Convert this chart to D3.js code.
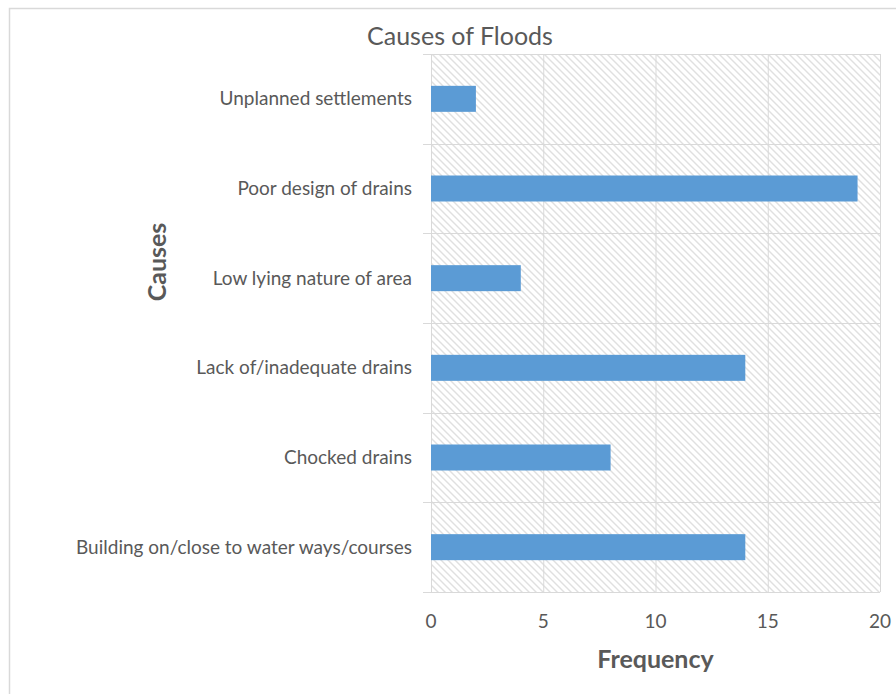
<!DOCTYPE html>
<html>
<head>
<meta charset="utf-8">
<script src="https://cdn.jsdelivr.net/npm/d3@7"></script>
<style>
  html, body { margin: 0; padding: 0; background: #fff; }
  svg { display: block; }
  text { font-family: Lato, "Open Sans", sans-serif; fill: #595959; }
</style>
</head>
<body>
<script>
// Survey results: reported causes of flooding and how often each was cited
const causes = [
  "Unplanned settlements",
  "Poor design of drains",
  "Low lying nature of area",
  "Lack of/inadequate drains",
  "Chocked drains",
  "Building on/close to water ways/courses"
];
const frequency = [2, 19, 4, 14, 8, 14];
const xTicks = [0, 5, 10, 15, 20];

const W = 896, H = 694;
const plot = { left: 431, right: 880, top: 54, bottom: 592 };

const svg = d3.select("body").append("svg")
  .attr("width", W).attr("height", H);

// Outer chart frame
svg.append("rect")
  .attr("x", 9.5).attr("y", 8.5)
  .attr("width", W).attr("height", H)
  .attr("fill", "#fff").attr("stroke", "#d9d9d9").attr("stroke-width", 1.5);

// Diagonal hatch fill for the plot area
const defs = svg.append("defs");
const pat = defs.append("pattern")
  .attr("id", "hatch")
  .attr("patternUnits", "userSpaceOnUse")
  .attr("width", 7).attr("height", 7);
pat.append("rect").attr("width", 7).attr("height", 7).attr("fill", "#fff");
pat.append("path")
  .attr("d", "M-1,-1 L8,8 M-1,6 L1,8 M6,-1 L8,1")
  .attr("stroke", "#e0e0e0").attr("stroke-width", 1.4);

const x = d3.scaleLinear().domain([0, 20]).range([plot.left, plot.right]);
const y = d3.scaleBand().domain(causes).range([plot.top, plot.bottom]).paddingInner(0.71).paddingOuter(0.355);
const yEdges = d3.scaleLinear().domain([0, causes.length]).range([plot.top, plot.bottom]);

svg.append("rect")
  .attr("x", plot.left).attr("y", plot.top)
  .attr("width", plot.right - plot.left).attr("height", plot.bottom - plot.top)
  .attr("fill", "url(#hatch)");

// Vertical gridlines at the value ticks
svg.append("g").selectAll("line").data(xTicks).join("line")
  .attr("x1", d => x(d) + 0.5).attr("x2", d => x(d) + 0.5)
  .attr("y1", plot.top).attr("y2", plot.bottom)
  .attr("stroke", "#d9d9d9").attr("stroke-width", 1);

// Category boundary lines with outward tick marks
svg.append("g").selectAll("line").data(d3.range(causes.length + 1)).join("line")
  .attr("x1", plot.left - 8).attr("x2", plot.right)
  .attr("y1", d => Math.round(yEdges(d)) + 0.5).attr("y2", d => Math.round(yEdges(d)) + 0.5)
  .attr("stroke", "#d9d9d9").attr("stroke-width", 1);

// Bars
svg.append("g").selectAll("rect").data(causes).join("rect")
  .attr("x", x(0))
  .attr("y", d => y(d))
  .attr("width", (d, i) => x(frequency[i]) - x(0))
  .attr("height", y.bandwidth())
  .attr("fill", "#5b9bd5");

// Category labels
svg.append("g").selectAll("text").data(causes).join("text")
  .attr("x", plot.left - 19)
  .attr("y", d => y(d) + y.bandwidth() / 2)
  .attr("dy", "0.35em")
  .attr("text-anchor", "end")
  .attr("font-size", 19)
  .text(d => d);

// Value tick labels
svg.append("g").selectAll("text").data(xTicks).join("text")
  .attr("x", d => x(d))
  .attr("y", 628)
  .attr("text-anchor", "middle")
  .attr("font-size", 19)
  .text(d => d);

// Title
svg.append("text")
  .attr("x", 460).attr("y", 45)
  .attr("text-anchor", "middle")
  .attr("font-size", 25)
  .text("Causes of Floods");

// Axis titles
svg.append("text")
  .attr("x", (plot.left + plot.right) / 2).attr("y", 668)
  .attr("text-anchor", "middle")
  .attr("font-size", 25).attr("font-weight", "bold")
  .text("Frequency");

svg.append("text")
  .attr("transform", "translate(166,262) rotate(-90)")
  .attr("text-anchor", "middle")
  .attr("font-size", 25).attr("font-weight", "bold")
  .text("Causes");
</script>
</body>
</html>
